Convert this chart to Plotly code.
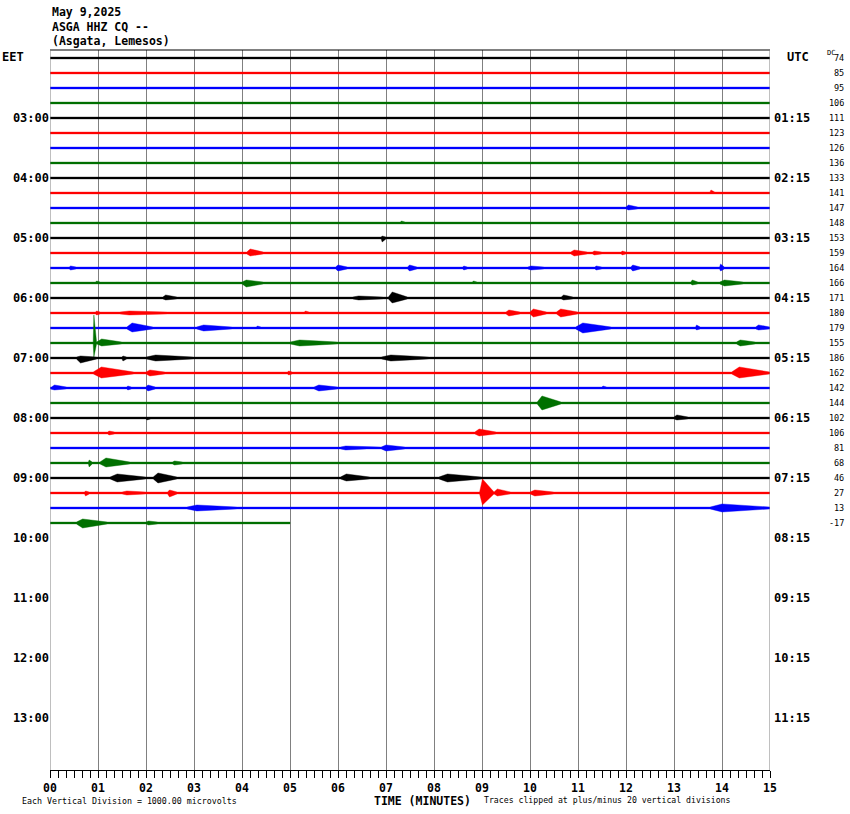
import plotly.graph_objects as go

# ---------------- data ----------------
TITLE_LINES = ["May 9,2025", "ASGA HHZ CQ --", "(Asgata, Lemesos)"]
TRACE_COLORS = ["#000000", "#ff0000", "#0000ff", "#007000"]
FIRST_HOUR_EET = 2.0          # first trace starts 02:00 EET
ROW_HOURS = 0.25              # 15 minutes per line
N_TRACES = 32
TRACE_END_MIN = [15.0] * 31 + [5.0]
DC_OFFSETS = [74, 85, 95, 106, 111, 123, 126, 136, 133, 141, 147, 148, 153, 159, 164, 166,
              171, 180, 179, 155, 186, 162, 142, 144, 102, 106, 81, 68, 46, 27, 13, -17]
EET_TICKS = [3, 4, 5, 6, 7, 8, 9, 10, 11, 12, 13]
EET_LABELS = ["03:00", "04:00", "05:00", "06:00", "07:00", "08:00", "09:00",
              "10:00", "11:00", "12:00", "13:00"]
UTC_LABELS = ["01:15", "02:15", "03:15", "04:15", "05:15", "06:15", "07:15",
              "08:15", "09:15", "10:15", "11:15"]
X_TICKS = list(range(16))
X_LABELS = ["%02d" % m for m in X_TICKS]

BASE_NOISE = 0.9   # background half-amplitude (vertical divisions)
# per trace: (start minute, end minute, upward amplitude, downward amplitude) in divisions
EVENTS = [
    [], [], [], [], [], [], [], [],
    [(13.35, 13.45, 1.5, 1.5)],
    [(13.75, 13.85, 3, 1)],
    [(12.0, 12.25, 3, 2)],
    [(7.3, 7.4, 2, 1)],
    [(6.9, 7.0, 2, 4)],
    [(4.1, 4.45, 4, 3), (10.85, 11.2, 3, 3), (11.3, 11.5, 2, 2), (11.9, 12.0, 2, 2)],
    [(0.4, 0.55, 2, 2), (5.95, 6.2, 3, 3), (7.45, 7.65, 3, 3), (8.6, 8.7, 2, 2),
     (9.95, 10.3, 2, 2), (11.35, 11.5, 2, 2), (12.1, 12.3, 3, 3), (13.95, 14.05, 4, 3)],
    [(0.95, 1.05, 2, 1), (4.0, 4.45, 3, 4), (8.8, 8.9, 2, 1), (13.35, 13.5, 3, 2), (13.95, 14.45, 3, 3)],
    [(2.35, 2.65, 3, 2), (6.3, 6.95, 2, 2), (7.05, 7.45, 6, 5), (10.65, 10.9, 3, 2)],
    [(0.95, 1.05, 2, 2), (1.45, 2.45, 2, 2), (5.3, 5.4, 2, 1), (9.5, 9.8, 3, 3),
     (10.0, 10.35, 4, 4), (10.55, 11.0, 4, 4)],
    [(1.6, 2.15, 5, 4), (3.05, 3.8, 3, 3), (4.3, 4.4, 2, 1), (10.95, 11.7, 5, 5),
     (13.45, 13.55, 3, 2), (14.7, 15.0, 3, 2)],
    [(0.9, 0.97, 28, 14), (0.97, 1.5, 4, 3), (5.0, 6.0, 3, 3), (14.3, 14.7, 3, 3)],
    [(0.55, 0.98, 2, 5), (1.5, 1.6, 2, 3), (2.0, 3.0, 3, 3), (6.9, 7.9, 3, 3)],
    [(0.9, 1.75, 6, 5), (2.0, 2.4, 3, 3), (4.95, 5.05, 2, 2), (14.2, 15.0, 6, 5)],
    [(0.03, 0.35, 3, 2), (1.6, 1.7, 2, 2), (2.0, 2.2, 3, 3), (5.5, 6.0, 3, 3), (11.5, 11.6, 2, 1)],
    [(10.15, 10.65, 7, 7)],
    [(2.0, 2.1, 1, 2), (13.0, 13.3, 3, 2)],
    [(1.2, 1.35, 2, 2), (8.85, 9.3, 4, 3)],
    [(6.05, 6.6, 2, 2), (6.9, 7.4, 3, 3)],
    [(0.8, 0.88, 3, 4), (1.04, 1.67, 5, 4), (2.55, 2.77, 2, 2)],
    [(1.25, 2.0, 4, 4), (2.15, 2.65, 5, 5), (6.05, 6.67, 4, 3), (8.1, 9.0, 4, 4)],
    [(0.72, 0.82, 2, 3), (1.5, 2.0, 2, 2), (2.45, 2.65, 3, 4), (8.95, 9.25, 14, 12),
     (9.25, 9.6, 4, 3), (10.0, 10.5, 3, 3)],
    [(2.85, 3.9, 3, 3), (13.75, 15.0, 4, 4)],
    [(0.55, 1.2, 4, 5), (2.0, 2.25, 2, 2)],
]

DIV_HOURS = 1.0 / 60.0     # one vertical division on the hour axis
Y_RANGE = [13.867, 1.867]

# ---------------- figure ----------------
fig = go.Figure()

for k in range(N_TRACES):
    base = FIRST_HOUR_EET + k * ROW_HOURS
    end = TRACE_END_MIN[k]
    color = TRACE_COLORS[k % 4]
    ux, uy, ly = [0.0], [BASE_NOISE], [BASE_NOISE]
    for (t0, t1, up, dn) in sorted(EVENTS[k]):
        if t0 >= end:
            continue
        tp = t0 + 0.2 * (t1 - t0)
        ux += [t0, tp, t1]
        uy += [BASE_NOISE, max(up, BASE_NOISE), BASE_NOISE]
        ly += [BASE_NOISE, max(dn, BASE_NOISE), BASE_NOISE]
    ux.append(end)
    uy.append(BASE_NOISE)
    ly.append(BASE_NOISE)
    xs = ux + ux[::-1]
    ys = [base - a * DIV_HOURS for a in uy] + [base + a * DIV_HOURS for a in ly[::-1]]
    fig.add_trace(go.Scatter(x=xs, y=ys, mode="lines", fill="toself",
                             fillcolor=color, line=dict(color=color, width=0.4),
                             hoverinfo="skip", showlegend=False))

# invisible trace on right axis so it renders
fig.add_trace(go.Scatter(x=[0], y=[FIRST_HOUR_EET], yaxis="y2", mode="markers",
                         marker=dict(opacity=0), hoverinfo="skip", showlegend=False))

FONT = "DejaVu Sans Mono"
fig.update_layout(
    width=850, height=814,
    margin=dict(l=50, r=80, t=50, b=44),
    paper_bgcolor="white", plot_bgcolor="white",
    font=dict(family=FONT, color="black"),
    xaxis=dict(range=[0, 15], tickvals=X_TICKS, ticktext=X_LABELS,
               ticks="outside", ticklen=7, tickcolor="black", tickwidth=1,
               showline=True, linecolor="black", linewidth=1,
               showgrid=True, gridcolor="#808080", gridwidth=1, zeroline=False,
               tickfont=dict(family=FONT, size=11.5, weight="bold"),
               minor=dict(dtick=1/6, tick0=0, ticks="outside", ticklen=7,
                          tickcolor="black", tickwidth=1, showgrid=False)),
    yaxis=dict(range=Y_RANGE, tickvals=EET_TICKS, ticktext=EET_LABELS,
               ticks="", showgrid=False, zeroline=False, showline=False,
               tickfont=dict(family=FONT, size=12, weight="bold")),
    yaxis2=dict(range=Y_RANGE, overlaying="y", side="right",
                tickvals=EET_TICKS, ticktext=UTC_LABELS, ticklabelstandoff=3,
                ticks="", showgrid=False, zeroline=False, showline=False,
                tickfont=dict(family=FONT, size=12, weight="bold")),
)

# borders
fig.add_shape(type="line", xref="paper", yref="paper", x0=0, x1=1, y0=1, y1=1,
              line=dict(color="black", width=1))
fig.add_shape(type="line", xref="x", yref="paper", x0=0, x1=0, y0=0, y1=1,
              line=dict(color="#808080", width=1))
fig.add_shape(type="line", xref="x", yref="paper", x0=15, x1=15, y0=0, y1=1,
              line=dict(color="#808080", width=1))

ann = []
for i, line in enumerate(TITLE_LINES):
    ypx = 12 + 14.5 * i
    ann.append(dict(text=line, xref="paper", yref="paper", x=0, y=1 + (50 - ypx) / 720,
                    xanchor="left", yanchor="middle", showarrow=False,
                    font=dict(family=FONT, size=11.5, weight="bold")))
ann.append(dict(text="EET", xref="paper", yref="y", x=(0 - 50) / 720, y=FIRST_HOUR_EET - 1 / 60,
                xanchor="left", yanchor="middle", showarrow=False,
                font=dict(family=FONT, size=12, weight="bold")))
ann.append(dict(text="UTC", xref="paper", yref="y", x=(785 - 50) / 720, y=FIRST_HOUR_EET - 1 / 60,
                xanchor="left", yanchor="middle", showarrow=False,
                font=dict(family=FONT, size=12, weight="bold")))
ann.append(dict(text="DC", xref="paper", yref="y", x=(825 - 50) / 720, y=FIRST_HOUR_EET - 5 / 60,
                xanchor="left", yanchor="middle", showarrow=False,
                font=dict(family=FONT, size=7)))
for k, dc in enumerate(DC_OFFSETS):
    ann.append(dict(text=str(dc), xref="paper", yref="y", x=(846 - 50) / 720,
                    y=FIRST_HOUR_EET + k * ROW_HOURS,
                    xanchor="right", yanchor="middle", showarrow=False,
                    font=dict(family=FONT, size=8.5)))
ann.append(dict(text="TIME (MINUTES)", xref="paper", yref="paper", x=(422 - 50) / 720,
                y=-(801 - 770) / 720, xanchor="center", yanchor="middle", showarrow=False,
                font=dict(family=FONT, size=11.5, weight="bold")))
ann.append(dict(text="Each Vertical Division = 1000.00 microvolts", xref="paper", yref="paper",
                x=(20 - 50) / 720, y=-(801 - 770) / 720, xanchor="left", yanchor="middle",
                showarrow=False, font=dict(family=FONT, size=8.3)))
ann.append(dict(text="Traces clipped at plus/minus 20 vertical divisions", xref="paper",
                yref="paper", x=(482 - 50) / 720, y=-(800 - 770) / 720, xanchor="left",
                yanchor="middle", showarrow=False, font=dict(family=FONT, size=8.2)))
fig.update_layout(annotations=ann)

fig.write_html("out.html", config={"displayModeBar": False},
               post_script="document.body.style.margin='0';document.body.style.overflow='hidden';")
